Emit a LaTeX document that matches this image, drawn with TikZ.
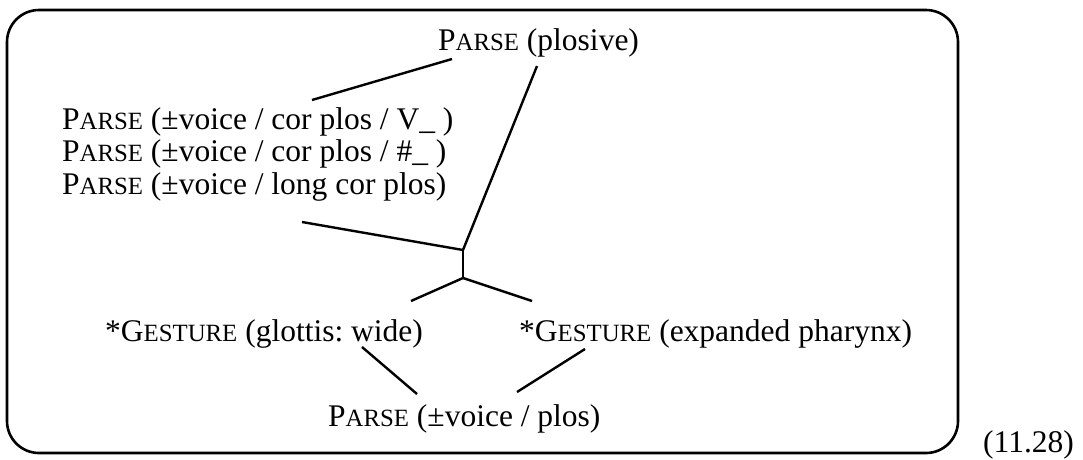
\documentclass[tikz,border=0pt]{standalone}
\usepackage{fontspec}
\setmainfont{Liberation Serif}
\frenchspacing
\newcommand\scap[1]{{\fontsize{24.8}{26}\selectfont #1}}
\begin{document}
\begin{tikzpicture}[x=1pt,y=-1pt,
  lbl/.style={anchor=base west,inner sep=0pt,font=\fontsize{31.5}{36}\selectfont},
  edge/.style={line width=2.4pt},
  frame/.style={line width=2.6pt,rounded corners=32pt}]
\useasboundingbox (0,0) rectangle (1083,459);
\draw[frame] (7,10) rectangle (958,453);
\node[lbl] (top) at (438,50) {P\scap{ARSE} (plosive)};
\node[lbl] (l1) at (62,129) {P\scap{ARSE} (±voice / cor plos / V\_ )};
\node[lbl] (l2) at (62,161) {P\scap{ARSE} (±voice / cor plos / \#\_ )};
\node[lbl] (l3) at (62,194) {P\scap{ARSE} (±voice / long cor plos)};
\node[lbl] (g1) at (105,341) {*G\scap{ESTURE} (glottis: wide)};
\node[lbl] (g2) at (519,341) {*G\scap{ESTURE} (expanded pharynx)};
\node[lbl] (bot) at (328,426) {P\scap{ARSE} (±voice / plos)};
\node[lbl] (eq) at (983,452) {(11.28)};
\coordinate (topL) at (452,59);
\coordinate (topR) at (537,66);
\coordinate (l1e) at (312,100);
\coordinate (l3e) at (302,222);
\coordinate (j1) at (463,250);
\coordinate (j2) at (463,278);
\coordinate (g1t) at (411,301);
\coordinate (g2t) at (532,301);
\coordinate (g1b) at (362,347);
\coordinate (g2b) at (585,349);
\coordinate (botL) at (417,394);
\coordinate (botR) at (517,392);
\draw[edge] (topL) -- (l1e);
\draw[edge] (topR) -- (j1);
\draw[edge] (l3e) -- (j1);
\draw[edge] (j1) -- (j2);
\draw[edge] (j2) -- (g1t);
\draw[edge] (j2) -- (g2t);
\draw[edge] (g1b) -- (botL);
\draw[edge] (g2b) -- (botR);
\end{tikzpicture}
\end{document}
